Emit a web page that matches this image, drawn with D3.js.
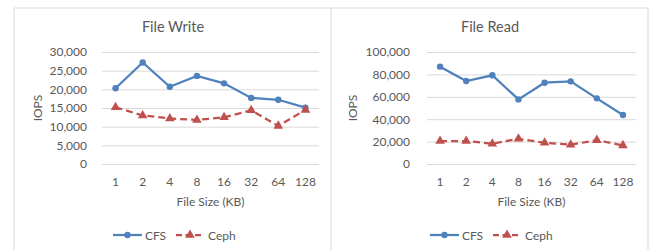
<!DOCTYPE html>
<html>
<head>
<meta charset="utf-8">
<script src="https://cdn.jsdelivr.net/npm/d3@7"></script>
<style>
  body { margin: 0; background: #fff; }
  svg { display: block; font-family: Lato, "Open Sans", sans-serif; }
</style>
</head>
<body>
<svg id="chart" width="649" height="250"></svg>
<script>
const sizes = ["1", "2", "4", "8", "16", "32", "64", "128"];
const writeCFS = [20300, 27200, 20700, 23600, 21600, 17700, 17200, 15100];
const writeCeph = [15200, 13000, 12200, 11800, 12500, 14400, 10200, 14500];
const readCFS = [86900, 74100, 79200, 57700, 72600, 73800, 58600, 43700];
const readCeph = [20500, 20500, 18100, 22500, 19000, 17200, 21300, 16600];
const writeTicks = [0, 5000, 10000, 15000, 20000, 25000, 30000];
const readTicks = [0, 20000, 40000, 60000, 80000, 100000];

const svg = d3.select("#chart");
const blue = "#4F81BD", red = "#C0504D", textCol = "#595959", gridCol = "#d9d9d9";

// panel frames
svg.append("path")
    .attr("d", "M14,250 V8 H648 V250 M331,8 V250")
    .attr("fill", "none")
    .attr("stroke", "#d9d9d9")
    .attr("stroke-width", 1);

function panel(opt) {
    const g = svg.append("g");
    const x = d3.scaleBand().domain(sizes).range([opt.x0, opt.x1]);
    const y = d3.scaleLinear().domain([0, opt.max]).range([164, 52]);

    g.append("text")
        .attr("x", opt.titleX).attr("y", 32)
        .attr("text-anchor", "middle")
        .attr("font-size", 14.5)
        .attr("fill", textCol)
        .text(opt.title);

    const yAxis = g.append("g")
        .attr("transform", `translate(${opt.x0},0)`)
        .call(d3.axisLeft(y).tickValues(opt.ticks).tickSize(-(opt.x1 - opt.x0))
            .tickPadding(opt.pad).tickFormat(d3.format(",")));
    yAxis.select(".domain").remove();
    yAxis.selectAll("line").attr("stroke", gridCol);
    yAxis.selectAll("text").attr("fill", textCol).attr("font-size", 12)
        .attr("font-family", "Lato, 'Open Sans', sans-serif");

    const xAxis = g.append("g")
        .attr("transform", "translate(0,164)")
        .call(d3.axisBottom(x).tickSize(0).tickPadding(13));
    xAxis.select(".domain").remove();
    xAxis.selectAll("text").attr("fill", textCol).attr("font-size", 12)
        .attr("font-family", "Lato, 'Open Sans', sans-serif");

    g.append("text")
        .attr("x", (opt.x0 + opt.x1) / 2).attr("y", 206)
        .attr("text-anchor", "middle")
        .attr("font-size", 12)
        .attr("fill", textCol)
        .text("File Size (KB)");

    g.append("text")
        .attr("transform", `translate(${opt.iopsX},108) rotate(-90)`)
        .attr("text-anchor", "middle")
        .attr("font-size", 12)
        .attr("fill", textCol)
        .text("IOPS");

    const line = d3.line()
        .x((d, i) => x(sizes[i]) + x.bandwidth() / 2)
        .y(d => y(d));

    g.append("path").datum(opt.cfs)
        .attr("d", line).attr("fill", "none")
        .attr("stroke", blue).attr("stroke-width", 2.25);
    g.selectAll(".cfs").data(opt.cfs).join("circle")
        .attr("cx", (d, i) => x(sizes[i]) + x.bandwidth() / 2)
        .attr("cy", d => y(d)).attr("r", 3.2).attr("fill", blue);

    g.append("path").datum(opt.ceph)
        .attr("d", line).attr("fill", "none")
        .attr("stroke", red).attr("stroke-width", 2.25)
        .attr("stroke-dasharray", "7,4");
    const tri = d3.symbol().type(d3.symbolTriangle).size(40);
    g.selectAll(".ceph").data(opt.ceph).join("path")
        .attr("d", tri)
        .attr("transform", (d, i) => `translate(${x(sizes[i]) + x.bandwidth() / 2},${y(d)})`)
        .attr("fill", red);

    // legend
    const ly = 235;
    const lg = g.append("g");
    lg.append("line").attr("x1", opt.legX).attr("x2", opt.legX + 29)
        .attr("y1", ly).attr("y2", ly).attr("stroke", blue).attr("stroke-width", 2.25);
    lg.append("circle").attr("cx", opt.legX + 14.5).attr("cy", ly).attr("r", 3.2).attr("fill", blue);
    lg.append("text").attr("x", opt.legX + 32).attr("y", ly + 4.5)
        .attr("font-size", 12).attr("fill", textCol).text("CFS");
    const cx = opt.legX + 63;
    lg.append("line").attr("x1", cx).attr("x2", cx + 28)
        .attr("y1", ly).attr("y2", ly).attr("stroke", red).attr("stroke-width", 2.25)
        .attr("stroke-dasharray", "6,3.5");
    lg.append("path").attr("d", tri)
        .attr("transform", `translate(${cx + 14},${ly})`).attr("fill", red);
    lg.append("text").attr("x", cx + 32).attr("y", ly + 4.5)
        .attr("font-size", 12).attr("fill", textCol).text("Ceph");
}

panel({title: "File Write", titleX: 173, x0: 102, x1: 319, max: 30000, ticks: writeTicks,
    cfs: writeCFS, ceph: writeCeph, pad: 15, iopsX: 42, legX: 113});
panel({title: "File Read", titleX: 490, x0: 427, x1: 636, max: 100000, ticks: readTicks,
    cfs: readCFS, ceph: readCeph, pad: 17, iopsX: 357, legX: 430});
</script>
</body>
</html>
